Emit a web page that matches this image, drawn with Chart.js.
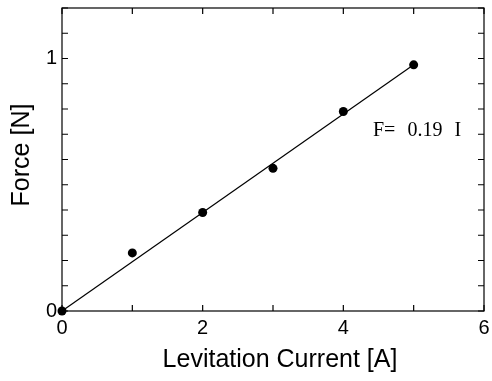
<!DOCTYPE html>
<html>
<head>
<meta charset="utf-8">
<script src="https://cdn.jsdelivr.net/npm/chart.js@4.4.1/dist/chart.umd.min.js"></script>
<style>
  html, body { margin: 0; padding: 0; background: #fff; }
</style>
</head>
<body>
<canvas id="chart" width="492" height="381"></canvas>
<script>
// measured points (levitation current vs force)
const current = [0, 1, 2, 3, 4, 5];
const force = [0, 0.23, 0.39, 0.565, 0.79, 0.975];
// fitted line end points
const fitCurrent = [0, 5];
const fitForce = [0, 0.975];
// which ticks carry a label
const xTickLabels = [0, 2, 4, 6];
const yTickLabels = [0, 1];
const xTitle = 'Levitation Current [A]';
const yTitle = 'Force [N]';
const fitNote = 'F= 0.19 I';

const sans = "'Liberation Sans', Arial, sans-serif";

const near = (list, v) => list.find(t => Math.abs(t - v) < 1e-6);
const tickText = list => v => { const t = near(list, v); return t === undefined ? '' : String(t); };

// the scale would otherwise pad the plot for its edge labels
const fixScale = size => s => {
  if (s.isHorizontal()) s.height = size; else s.width = size;
  s.paddingTop = s.paddingBottom = s.paddingLeft = s.paddingRight = 0;
};

// frame with inward ticks on all four sides, titles and the fit note
const framePlugin = {
  id: 'frame',
  beforeDatasetsDraw(chart) {
    const { ctx, chartArea: a, scales: { x, y } } = chart;
    ctx.save();
    ctx.strokeStyle = '#000';
    ctx.lineWidth = 1.2;
    ctx.strokeRect(a.left, a.top, a.right - a.left, a.bottom - a.top);
    const len = 6;
    ctx.beginPath();
    x.ticks.forEach(t => {
      const px = x.getPixelForValue(t.value);
      ctx.moveTo(px, a.bottom); ctx.lineTo(px, a.bottom - len);
      ctx.moveTo(px, a.top); ctx.lineTo(px, a.top + len);
    });
    y.ticks.forEach(t => {
      const py = y.getPixelForValue(t.value);
      ctx.moveTo(a.left, py); ctx.lineTo(a.left + len, py);
      ctx.moveTo(a.right, py); ctx.lineTo(a.right - len, py);
    });
    ctx.stroke();
    ctx.restore();
  },
  afterDraw(chart) {
    const { ctx } = chart;
    ctx.save();
    ctx.fillStyle = '#000';
    ctx.font = '25px ' + sans;
    ctx.textAlign = 'center';
    ctx.textBaseline = 'middle';
    ctx.fillText(xTitle, 280, 360);
    ctx.translate(22, 155);
    ctx.rotate(-Math.PI / 2);
    ctx.fillText(yTitle, 0, 0);
    ctx.restore();

    ctx.save();
    ctx.fillStyle = '#000';
    ctx.font = "20px 'Liberation Serif', 'Times New Roman', serif";
    ctx.wordSpacing = '7px';
    ctx.textAlign = 'left';
    ctx.textBaseline = 'alphabetic';
    ctx.fillText(fitNote, 373, 136);
    ctx.restore();
  }
};

new Chart(document.getElementById('chart'), {
  type: 'scatter',
  data: {
    datasets: [
      {
        type: 'line',
        data: fitCurrent.map((c, i) => ({ x: c, y: fitForce[i] })),
        borderColor: '#000',
        borderWidth: 1.2,
        pointRadius: 0,
        fill: false,
        clip: false
      },
      {
        data: current.map((c, i) => ({ x: c, y: force[i] })),
        backgroundColor: '#000',
        borderColor: '#000',
        pointRadius: 4.5,
        borderWidth: 0,
        clip: false
      }
    ]
  },
  options: {
    responsive: false,
    devicePixelRatio: 1,
    animation: false,
    layout: { padding: { top: 8, right: 8, left: 0, bottom: 0 } },
    plugins: {
      legend: { display: false },
      tooltip: { enabled: false }
    },
    scales: {
      x: {
        type: 'linear',
        min: 0,
        max: 6,
        grid: { display: false, drawTicks: false },
        border: { display: false },
        ticks: {
          stepSize: 1,
          autoSkip: false,
          maxRotation: 0,
          padding: 5,
          color: '#000',
          font: { family: sans, size: 20 },
          callback: tickText(xTickLabels)
        },
        afterFit: fixScale(70)
      },
      y: {
        type: 'linear',
        min: 0,
        max: 1.2,
        grid: { display: false, drawTicks: false },
        border: { display: false },
        ticks: {
          stepSize: 0.1,
          autoSkip: false,
          padding: 5,
          color: '#000',
          font: { family: sans, size: 20 },
          callback: tickText(yTickLabels)
        },
        afterFit: fixScale(62)
      }
    }
  },
  plugins: [framePlugin]
});
</script>
</body>
</html>
